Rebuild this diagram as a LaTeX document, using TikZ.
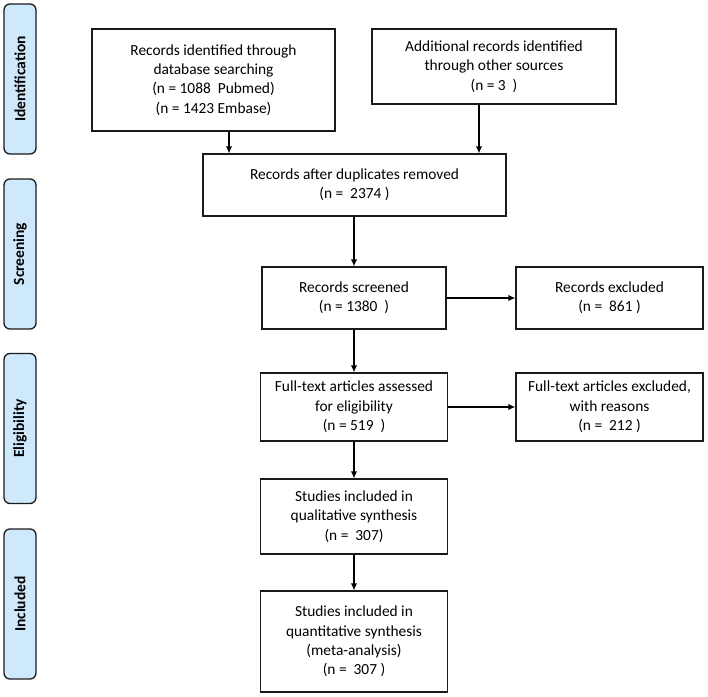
\documentclass[tikz,border=0pt]{standalone}
\usepackage{fontspec}
\setmainfont{Carlito}
\usetikzlibrary{arrows.meta}
\definecolor{sidefill}{HTML}{CFE9FC}
\definecolor{lineclr}{HTML}{1A1A1A}
\tikzset{
  box/.style={draw=lineclr, line width=1.3pt, fill=white, inner sep=0pt, align=center,
    font=\fontsize{15.4}{19.3}\selectfont},
  side/.style={draw=lineclr, line width=1.3pt, fill=sidefill, rounded corners=6pt, inner sep=0pt,
    minimum width=150pt, minimum height=32pt, rotate=90, font=\fontsize{15.5}{17}\selectfont\bfseries},
  arr/.style={draw=black, line width=1.3pt, -{Latex[length=7pt,width=6.5pt]}}
}
\begin{document}
\begin{tikzpicture}[x=1pt,y=-1pt]
\useasboundingbox (0,0) rectangle (708,696);
% side labels
\node[side] (sid) at (20,79) {Identification};
\node[side] (sscr) at (20,254) {Screening};
\node[side] (selg) at (20,428.5) {Eligibility};
\node[side] (sinc) at (20,604) {Included};
% boxes
\node[box, minimum width=243pt, minimum height=102pt] (ident) at (213.5,80)
  {Records identified through\\database searching\\(n = 1088~ Pubmed)\\(n = 1423 Embase)};
\node[box, minimum width=244pt, minimum height=75pt] (addl) at (494,66.5)
  {Additional records identified\\through other sources\\(n = 3~ )};
\node[box, minimum width=303pt, minimum height=62pt] (dup) at (354.5,185)
  {Records after duplicates removed\\(n = ~2374 )};
\node[box, minimum width=184pt, minimum height=62pt] (scr) at (354,298)
  {Records screened\\(n = 1380~ )};
\node[box, minimum width=187pt, minimum height=62pt] (excl) at (609.5,298)
  {Records excluded\\(n = ~861 )};
\node[box, minimum width=187pt, minimum height=68pt] (full) at (354,407)
  {Full-text articles assessed\\for eligibility\\(n = 519~ )};
\node[box, minimum width=187pt, minimum height=68pt] (fexcl) at (609.5,407)
  {Full-text articles excluded,\\with reasons\\(n = ~212 )};
\node[box, minimum width=187pt, minimum height=75pt] (qual) at (354,516.5)
  {Studies included in\\qualitative synthesis\\(n = ~307)};
\node[box, minimum width=187pt, minimum height=101pt] (quant) at (354,641.5)
  {Studies included in\\quantitative synthesis\\(meta-analysis)\\(n = ~307 )};
% connectors
\draw[arr] ([xshift=15.5pt]ident.south) -- ([xshift=15.5pt]ident.south |- dup.north);
\draw[arr] ([xshift=-15pt]addl.south) -- ([xshift=-15pt]addl.south |- dup.north);
\draw[arr] (dup.south -| scr.north) -- (scr.north);
\draw[arr] (scr.east) -- (excl.west);
\draw[arr] (scr.south) -- (scr.south |- full.north);
\draw[arr] (full.east) -- (fexcl.west);
\draw[arr] (full.south) -- (qual.north);
\draw[arr] (qual.south) -- (quant.north);
\end{tikzpicture}
\end{document}
